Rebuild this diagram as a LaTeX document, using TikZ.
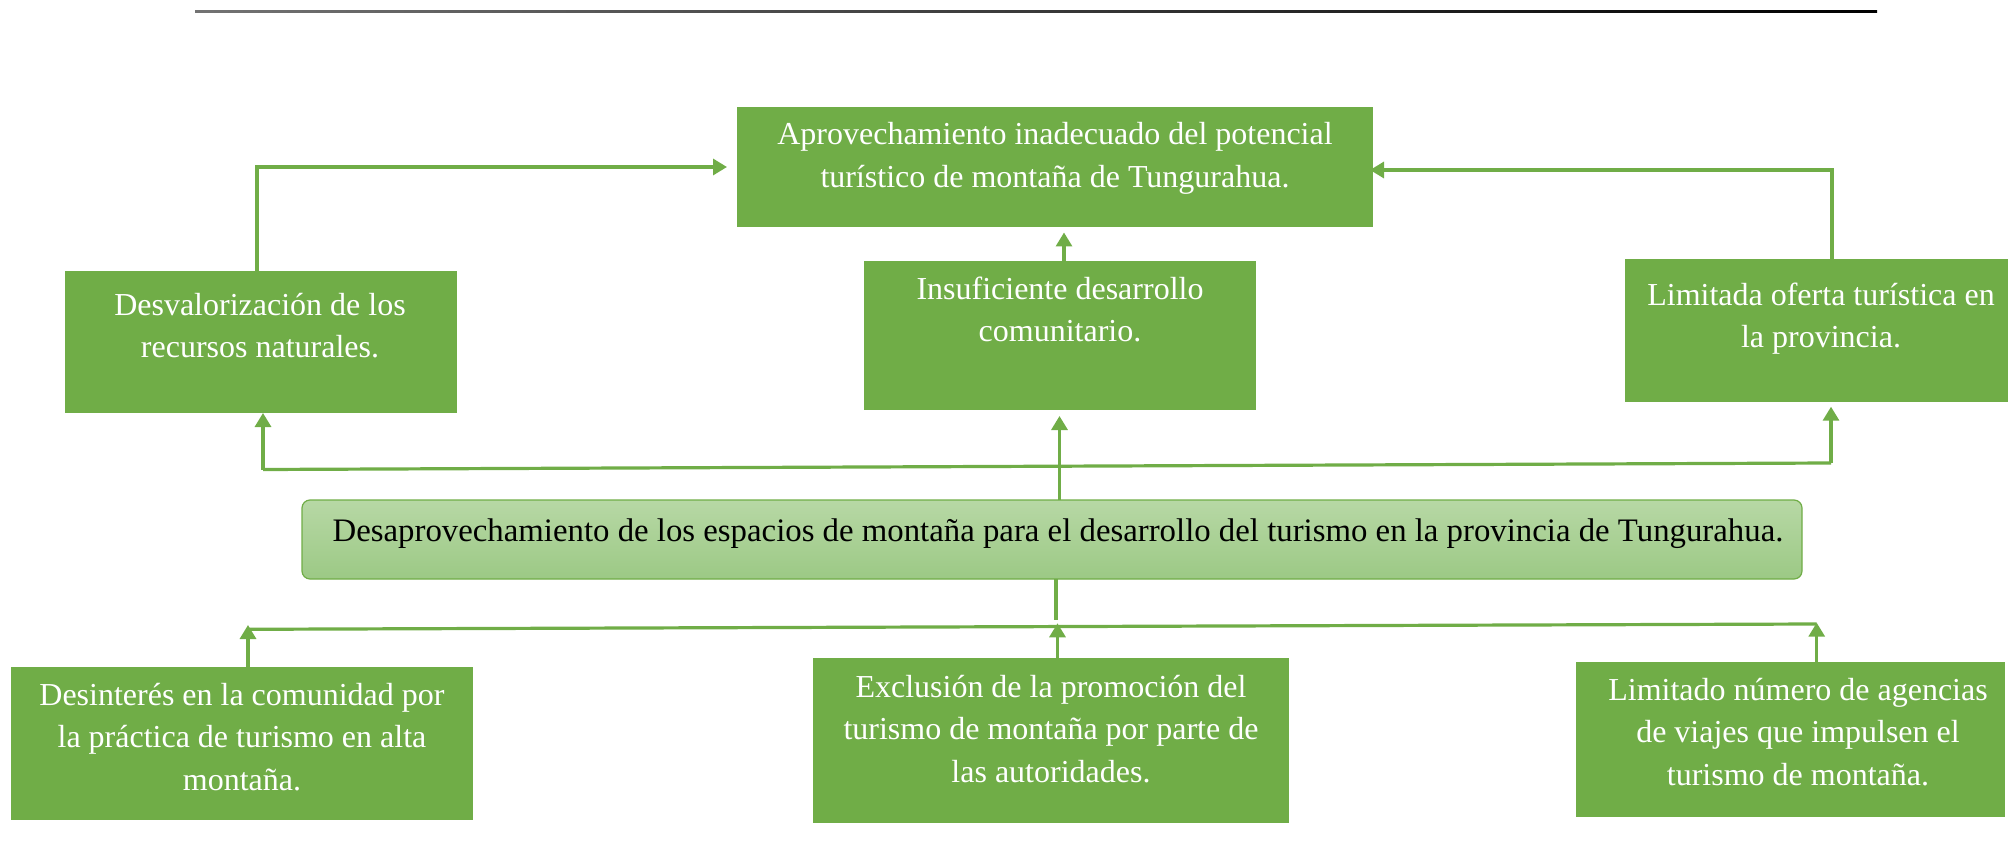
\documentclass[tikz,border=0pt]{standalone}
\usepackage{fontspec}
\setmainfont{Liberation Serif}
\usetikzlibrary{arrows.meta,calc}
\definecolor{gr}{HTML}{70AD47}
\definecolor{ctop}{HTML}{B7D8A5}
\definecolor{cbot}{HTML}{9CC985}
\tikzset{
  box/.style={rectangle, fill=gr, draw=none, inner sep=0pt, outer sep=0pt},
  cbox/.style={rectangle, rounded corners=8pt, top color=ctop, bottom color=cbot, draw=gr, line width=1.2pt, inner sep=0pt, outer sep=0pt},
  txt/.style={text=white, inner sep=0pt, anchor=base, font=\fontsize{32}{42.5}\selectfont},
  con/.style={draw=gr, line width=3.2pt},
  arr/.style={con, -{Triangle[length=14pt,width=16pt]}},
}
\begin{document}
\begin{tikzpicture}[x=1pt,y=-1pt]
\useasboundingbox (0,0) rectangle (2008,861);
\shade[left color=black!55, right color=black] (195,10.6) rectangle (1877,12.6);

% boxes
\node[box, minimum width=636pt, minimum height=120pt] (T) at (1055,167) {};
\node[box, minimum width=392pt, minimum height=149pt] (M) at (1060,335.5) {};
\node[box, minimum width=392pt, minimum height=142pt] (L) at (261,342) {};
\node[box, minimum width=383pt, minimum height=143pt] (R) at (1816.5,330.5) {};
\node[cbox, minimum width=1500pt, minimum height=79pt] (C) at (1052,539.5) {};
\node[box, minimum width=462pt, minimum height=153pt] (BL) at (242,743.5) {};
\node[box, minimum width=476pt, minimum height=165pt] (BM) at (1051,740.5) {};
\node[box, minimum width=429pt, minimum height=155pt] (BR) at (1790.5,739.5) {};

% texts
\node[txt] (tT) at (1055,145) {\parbox[t]{700pt}{\centering Aprovechamiento inadecuado del potencial\\turístico de montaña de Tungurahua.}};
\node[txt] (tM) at (1060,299) {\parbox[t]{500pt}{\centering Insuficiente desarrollo\\comunitario.}};
\node[txt] (tL) at (260,315) {\parbox[t]{500pt}{\centering Desvalorización de los\\recursos naturales.}};
\node[txt] (tR) at (1821,305) {\parbox[t]{500pt}{\centering Limitada oferta turística en\\la provincia.}};
\node[txt, text=black, font=\fontsize{32.8}{42.5}\selectfont] (tC) at (1058,541.7) {Desaprovechamiento de los espacios de montaña para el desarrollo del turismo en la provincia de Tungurahua.};
\node[txt] (tBL) at (242,705) {\parbox[t]{600pt}{\centering Desinterés en la comunidad por\\la práctica de turismo en alta\\montaña.}};
\node[txt] (tBM) at (1051,697) {\parbox[t]{600pt}{\centering Exclusión de la promoción del\\turismo de montaña por parte de\\las autoridades.}};
\node[txt] (tBR) at (1798,700) {\parbox[t]{600pt}{\centering Limitado número de agencias\\de viajes que impulsen el\\turismo de montaña.}};

% upper connectors
\draw[arr, shorten >=10pt] ([xshift=-4pt]L.north) |- (T.west);
\draw[arr, shorten >=-3pt] ([xshift=15.5pt]R.north) |- ([yshift=-3pt]T.east);
\coordinate (m1) at ([xshift=4pt]M.north);
\draw[arr, shorten >=5.5pt] (m1) -- (m1 |- T.south);

\coordinate (jl) at (263,469.5);
\coordinate (jr) at (1831,463);
\coordinate (jm) at (1059.5,466.2);
\draw[con] (jl) -- (jr);
\draw[con] (C.north -| jm) -- (jm);
\draw[arr] (jl) -- (jl |- L.south);
\draw[arr, shorten >=4.7pt] (jr) -- (jr |- R.south);
\draw[arr, shorten >=6pt] (jm) -- (jm |- M.south);

% lower connectors
\coordinate (ks) at (1056,620);
\coordinate (kl) at (248,629.3);
\coordinate (kr) at (1816.7,624);
\coordinate (km) at (1057.5,626.5);
\draw[con] (C.south -| ks) -- (ks);
\draw[con] (kl) -- (kr);
\draw[arr, shorten >=-4.3pt] (BL.north -| kl) -- (kl);
\draw[arr, shorten >=-3.2pt] (BM.north -| km) -- (km);
\draw[arr, shorten >=-1.3pt] (BR.north -| kr) -- (kr);
\end{tikzpicture}
\end{document}
